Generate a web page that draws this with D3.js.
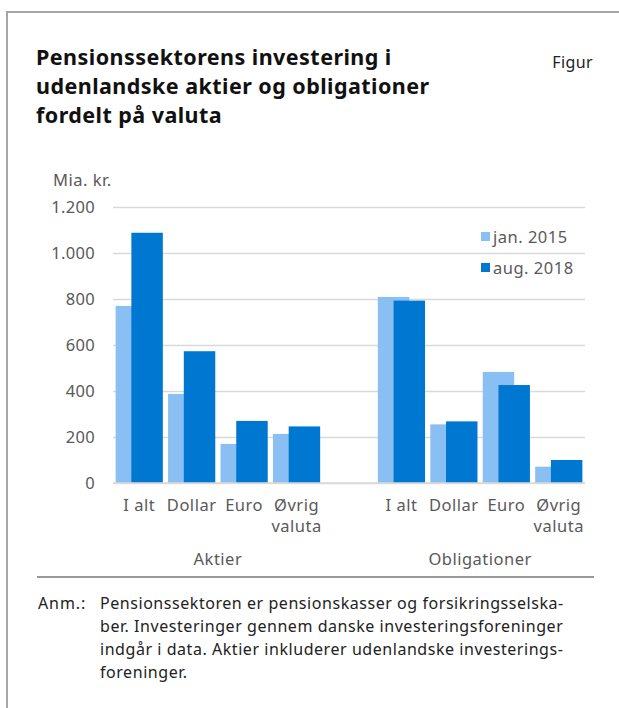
<!DOCTYPE html>
<html>
<head>
<meta charset="utf-8">
<script src="https://cdn.jsdelivr.net/npm/d3@7"></script>
<style>
  body { margin: 0; background: #fff; }
  svg { font-family: "Noto Sans", sans-serif; }
</style>
</head>
<body>
<div id="chart"></div>
<script>
// Data (mia. kr.)
const groups = ["Aktier", "Obligationer"];
const categories = ["I alt", "Dollar", "Euro", "Øvrig valuta"];
const series = ["jan. 2015", "aug. 2018"];
const aktierJan2015 = [770, 387, 170, 213];
const aktierAug2018 = [1088, 573, 270, 246];
const obligJan2015 = [809, 255, 483, 71];
const obligAug2018 = [793, 268, 426, 100];
const yTicks = [0, 200, 400, 600, 800, 1000, 1200];
const titleLines = ["Pensionssektorens investering i", "udenlandske aktier og obligationer", "fordelt på valuta"];
const noteLines = [
  "Pensionssektoren er pensionskasser og forsikringsselska-",
  "ber. Investeringer gennem danske investeringsforeninger",
  "indgår i data. Aktier inkluderer udenlandske investerings-",
  "foreninger."
];

const width = 619, height = 708;
const colors = ["#8abff3", "#0078d2"];
const axisColor = "#595959";
const axisFont = 16.5, axisSpacing = 0.5;

// build slots: 4 Aktier + one empty gap + 4 Obligationer
const values = { "Aktier": [aktierJan2015, aktierAug2018], "Obligationer": [obligJan2015, obligAug2018] };
const slots = [];
groups.forEach((g, gi) => {
  if (gi > 0) slots.push({ key: "gap", group: null });
  categories.forEach((c, ci) => {
    slots.push({ key: g + "|" + c, group: g, cat: c, vals: values[g].map(s => s[ci]) });
  });
});

const svg = d3.select("#chart").append("svg")
  .attr("width", width)
  .attr("height", height);

// frame
svg.append("path")
  .attr("d", "M7,708 V12 H619")
  .attr("fill", "none")
  .attr("stroke", "#a6a6a6")
  .attr("stroke-width", 2);

// title
svg.append("text")
  .attr("x", 36).attr("y", 65)
  .attr("font-size", 21.5).attr("font-weight", "bold").attr("fill", "#111")
  .attr("letter-spacing", 0.45)
  .selectAll("tspan").data(titleLines).join("tspan")
  .attr("x", 36).attr("dy", (d, i) => i ? 29 : 0)
  .text(d => d);

svg.append("text")
  .attr("x", 593).attr("y", 68)
  .attr("text-anchor", "end")
  .attr("font-size", 16).attr("fill", "#222")
  .attr("letter-spacing", 0.4)
  .text("Figur");

// scales
const x = d3.scaleBand()
  .domain(slots.map(s => s.key))
  .range([113, 585])
  .paddingInner(0.1)
  .paddingOuter(0.05);

const y = d3.scaleLinear()
  .domain([0, 1200])
  .range([483, 207]);

const fmt = d3.formatLocale({ decimal: ",", thousands: ".", grouping: [3], currency: ["", ""] }).format(",");

// gridlines
svg.append("g")
  .attr("transform", "translate(113,0)")
  .call(d3.axisLeft(y).tickValues(yTicks).tickSize(-(585 - 113)).tickFormat(""))
  .call(g => g.select(".domain").remove())
  .call(g => g.selectAll("line").attr("stroke", "#d9d9d9").attr("stroke-width", 1.5));

// y axis labels
svg.append("g")
  .attr("transform", "translate(113,0)")
  .call(d3.axisLeft(y).tickValues(yTicks).tickSize(0).tickPadding(18).tickFormat(fmt))
  .call(g => g.select(".domain").remove())
  .call(g => g.selectAll("text")
    .attr("font-family", "Noto Sans, sans-serif")
    .attr("font-size", axisFont).attr("fill", axisColor)
    .attr("letter-spacing", 0.3));

svg.append("text")
  .attr("x", 53).attr("y", 186)
  .attr("font-size", axisFont).attr("fill", axisColor)
  .attr("letter-spacing", axisSpacing)
  .text("Mia. kr.");

// bars: two overlapping series per slot (50% overlap)
const bw = x.bandwidth() / 1.5;
const dataSlots = slots.filter(s => s.group);
const barG = svg.append("g");
series.forEach((s, si) => {
  barG.append("g")
    .selectAll("rect")
    .data(dataSlots)
    .join("rect")
    .attr("x", d => x(d.key) + si * bw * 0.5)
    .attr("y", d => y(d.vals[si]))
    .attr("width", bw)
    .attr("height", d => y(0) - y(d.vals[si]))
    .attr("fill", colors[si]);
});

// x baseline
svg.append("line")
  .attr("x1", 113).attr("x2", 585)
  .attr("y1", y(0)).attr("y2", y(0))
  .attr("stroke", "#d9d9d9").attr("stroke-width", 1.5);

// category labels
const catText = svg.append("g").selectAll("text")
  .data(dataSlots)
  .join("text")
  .attr("x", d => x(d.key) + x.bandwidth() / 2)
  .attr("y", 511)
  .attr("text-anchor", "middle")
  .attr("font-size", axisFont).attr("fill", axisColor)
  .attr("letter-spacing", axisSpacing);
catText.selectAll("tspan")
  .data(d => d.cat === "Øvrig valuta" ? ["Øvrig", "valuta"] : [d.cat])
  .join("tspan")
  .attr("x", function() { return this.parentNode.getAttribute("x"); })
  .attr("dy", (d, i) => i ? 21 : 0)
  .text(d => d);

// group labels
groups.forEach(g => {
  const keys = dataSlots.filter(s => s.group === g).map(s => s.key);
  const x0 = x(keys[0]) - x.step() * x.paddingInner() / 2;
  const x1 = x(keys[keys.length - 1]) + x.bandwidth() + x.step() * x.paddingInner() / 2;
  svg.append("text")
    .attr("x", (x0 + x1) / 2).attr("y", 565)
    .attr("text-anchor", "middle")
    .attr("font-size", axisFont).attr("fill", axisColor)
    .attr("letter-spacing", axisSpacing)
    .text(g);
});

// legend
const legend = svg.append("g").selectAll("g")
  .data(series)
  .join("g")
  .attr("transform", (d, i) => `translate(481,${232 + i * 31})`);
legend.append("rect")
  .attr("width", 9).attr("height", 9)
  .attr("fill", (d, i) => colors[i]);
legend.append("text")
  .attr("x", 12).attr("y", 10.5)
  .attr("font-size", axisFont).attr("fill", axisColor)
  .attr("letter-spacing", axisSpacing)
  .text(d => d);

// separator
svg.append("line")
  .attr("x1", 37).attr("x2", 594)
  .attr("y1", 577).attr("y2", 577)
  .attr("stroke", "#999").attr("stroke-width", 2);

// note
svg.append("text")
  .attr("x", 38).attr("y", 609)
  .attr("font-size", 16).attr("fill", "#222")
  .attr("letter-spacing", 0.9)
  .text("Anm.:");
svg.append("text")
  .attr("y", 609)
  .attr("font-size", 16).attr("fill", "#222")
  .attr("letter-spacing", 0.55)
  .selectAll("tspan").data(noteLines).join("tspan")
  .attr("x", 100).attr("dy", (d, i) => i ? 23 : 0)
  .text(d => d);
</script>
</body>
</html>
